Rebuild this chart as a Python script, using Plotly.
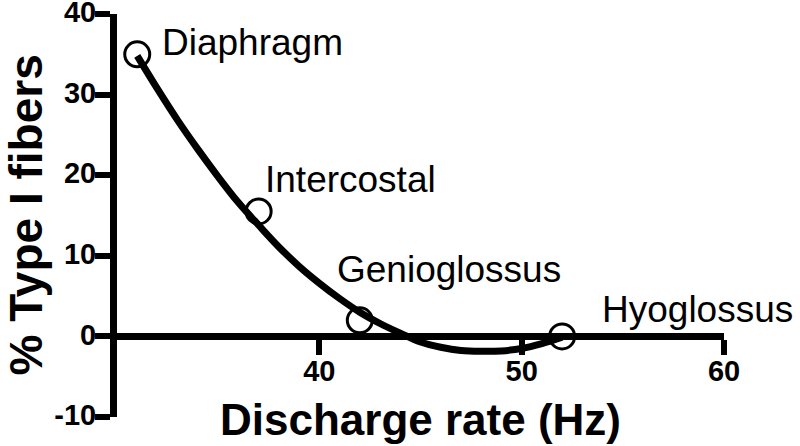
import plotly.graph_objects as go

# Data
muscles = ["Diaphragm", "Intercostal", "Genioglossus", "Hyoglossus"]
discharge_hz = [31, 37, 42, 52]
type1_pct = [35, 15.5, 2, 0]

fit_x = [31, 32, 33, 34, 35, 36, 37, 38, 39, 40, 41, 42, 43, 44, 45, 46, 47, 48, 49, 50, 51, 52]
fit_y = [34.8, 30.7, 26.8, 23.2, 19.8, 16.6, 13.8, 11.1, 8.7, 6.6, 4.7, 3.0, 1.6, 0.4, -0.7, -1.35, -1.75, -1.85, -1.8, -1.5, -0.9, -0.1]

x_ticks = [40, 50, 60]
y_ticks = [-10, 0, 10, 20, 30, 40]

FONT = "Liberation Sans, Arial, sans-serif"

fig = go.Figure()
fig.add_trace(go.Scatter(x=fit_x, y=fit_y, mode="lines",
                         line=dict(color="black", width=7, shape="spline"),
                         hoverinfo="skip", showlegend=False))
fig.add_trace(go.Scatter(x=discharge_hz, y=type1_pct, mode="markers",
                         marker=dict(symbol="circle-open", size=25, color="black",
                                     line=dict(width=3, color="black")),
                         text=muscles, showlegend=False, cliponaxis=False))

label_shifts = [(23, 12), (4, 32), (-25, 51), (38, 27)]
for name, xv, yv, (dx, dy) in zip(muscles, discharge_hz, type1_pct, label_shifts):
    fig.add_annotation(x=xv, y=yv, xref="x", yref="y", text=name, showarrow=False,
                       xanchor="left", yanchor="middle", xshift=dx, yshift=dy,
                       font=dict(family=FONT, size=37, color="black"))

fig.add_annotation(x=45, y=0, xref="x", yref="y", text="Discharge rate (Hz)",
                   showarrow=False, xanchor="center", yanchor="middle", yshift=-83,
                   font=dict(family=FONT, size=44, color="black", weight="bold"))
fig.add_annotation(x=30, y=15, xref="x", yref="y", text="% Type I fibers",
                   showarrow=False, textangle=-90, xanchor="center", yanchor="middle",
                   xshift=-92, font=dict(family=FONT, size=46, color="black", weight="bold"))

fig.update_layout(
    width=800, height=446,
    margin=dict(l=117, r=76, t=14, b=29),
    paper_bgcolor="white", plot_bgcolor="white",
    showlegend=False,
    xaxis=dict(range=[30, 60], anchor="free", position=0.2, automargin=False,
               showline=True, linewidth=7, linecolor="black",
               ticks="outside", ticklen=15, tickwidth=6, tickcolor="black",
               tickvals=x_ticks, ticktext=[str(v) for v in x_ticks],
               ticklabelstandoff=-9, ticklabeloverflow="allow",
               tickfont=dict(family=FONT, size=29, color="black", weight="bold"),
               showgrid=False, zeroline=False),
    yaxis=dict(range=[-10, 40], automargin=False, showline=True, linewidth=7, linecolor="black",
               ticks="outside", ticklen=15, tickwidth=6, tickcolor="black",
               tickvals=y_ticks, ticktext=[str(v) for v in y_ticks],
               ticklabelstandoff=-7, ticklabelshift=-2, ticklabeloverflow="allow",
               tickfont=dict(family=FONT, size=29, color="black", weight="bold"),
               showgrid=False, zeroline=False),
)

fig.write_html("out.html", config={"displayModeBar": False},
               post_script="document.body.style.margin='0px';")
